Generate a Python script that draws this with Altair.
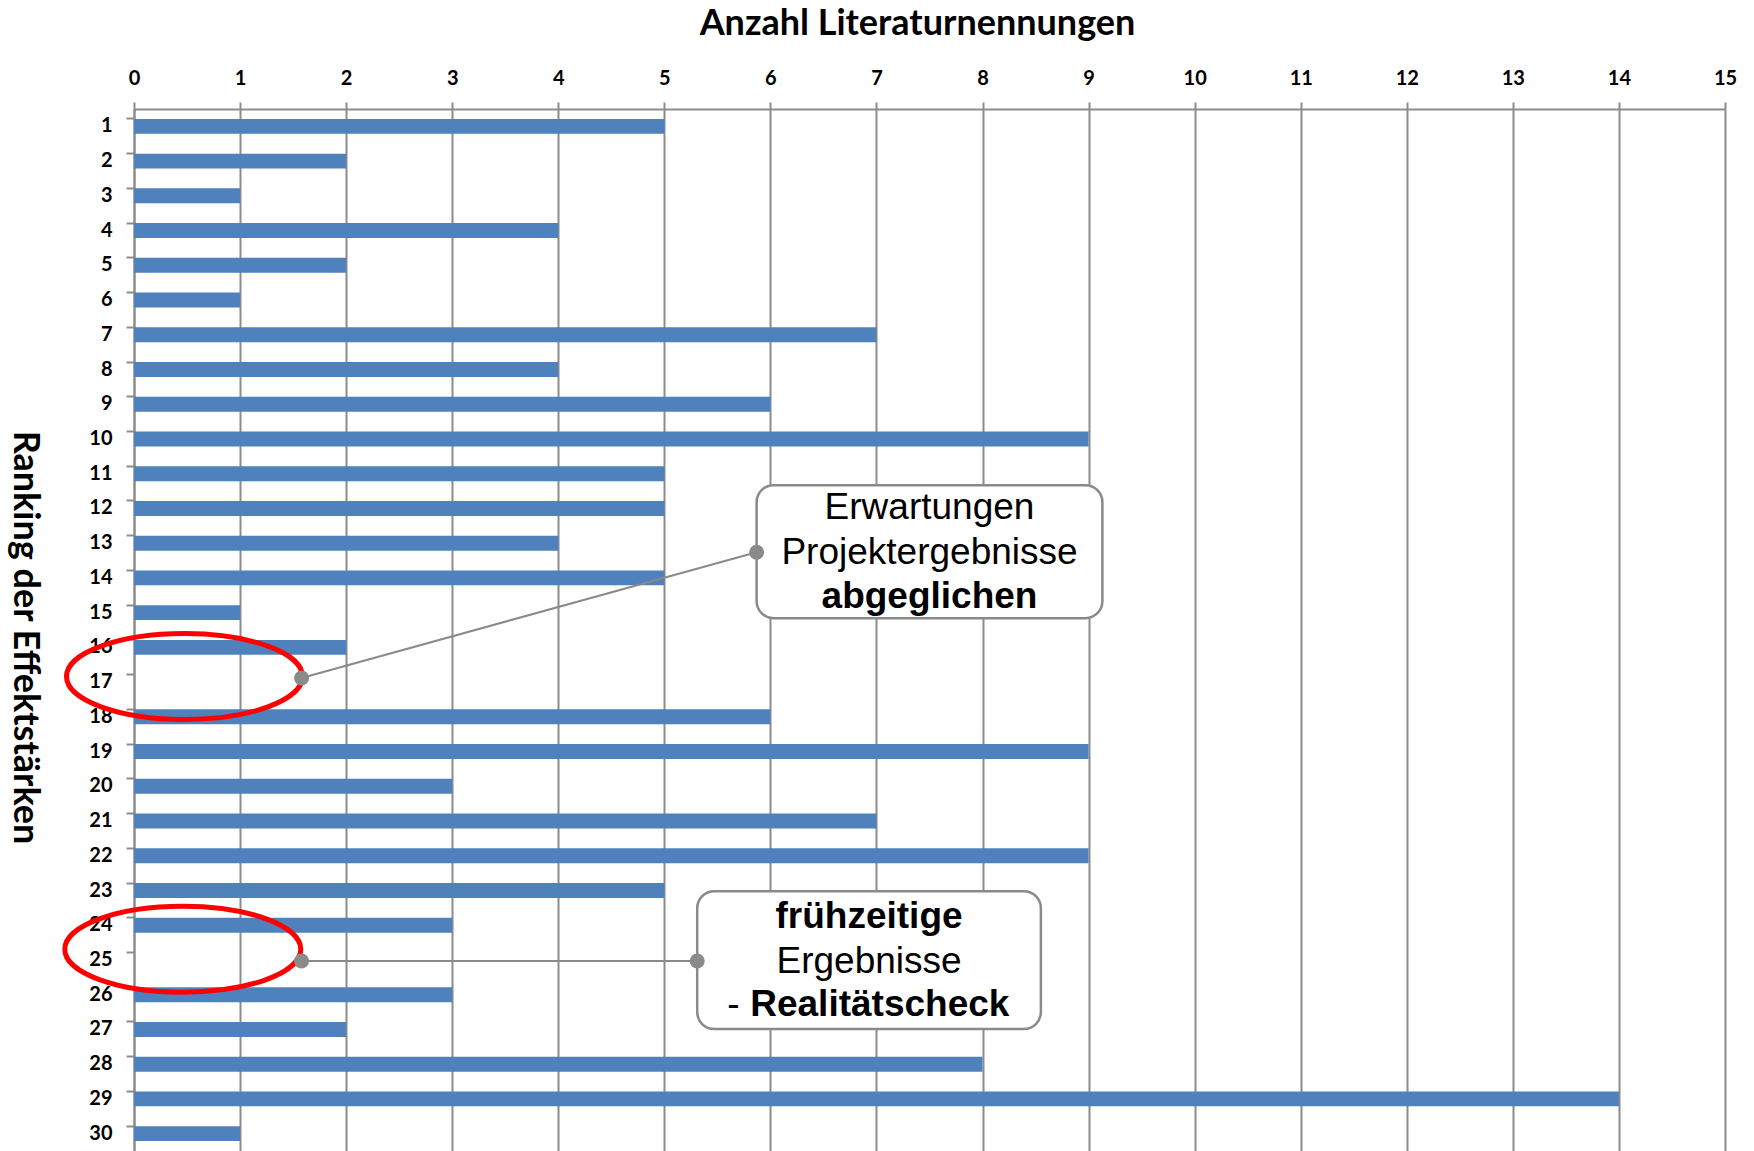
import altair as alt
import pandas as pd

# Ranking positions and number of literature mentions per rank
ranks = [1, 2, 3, 4, 5, 6, 7, 8, 9, 10, 11, 12, 13, 14, 15,
         16, 17, 18, 19, 20, 21, 22, 23, 24, 25, 26, 27, 28, 29, 30]
counts = [5, 2, 1, 4, 2, 1, 7, 4, 6, 9, 5, 5, 4, 5, 1,
          2, 0, 6, 9, 3, 7, 9, 5, 3, 0, 3, 2, 8, 14, 1]
x_ticks = [0, 1, 2, 3, 4, 5, 6, 7, 8, 9, 10, 11, 12, 13, 14, 15]

x_title = "Anzahl Literaturnennungen"
y_title = "Ranking der Effektstärken"

# Callout boxes (in data units: x = mentions, y = rank position)
box_x1 = [5.87, 5.31]
box_x2 = [9.13, 8.55]
box_y1 = [11.33, 23.02]
box_y2 = [15.16, 26.99]

# Callout text lines
text_plain = ["Erwartungen", "Projektergebnisse", "Ergebnisse"]
text_plain_x = [7.5, 7.5, 6.93]
text_plain_y = [11.99, 13.27, 25.06]
text_bold = ["abgeglichen", "frühzeitige"]
text_bold_x = [7.5, 6.93]
text_bold_y = [14.55, 23.76]
dash_text = ["-"]
dash_x = [5.71]
dash_y = [26.31]
tail_text = ["Realitätscheck"]
tail_x = [5.81]
tail_y = [26.31]

# Connector lines from the highlighted gaps to the boxes
conn_x1 = [1.58, 1.58]
conn_y1 = [16.88, 25.03]
conn_x2 = [5.87, 5.31]
conn_y2 = [13.26, 25.03]

# Highlight ellipses around the empty ranks
ell_x = [0.476, 0.46]
ell_y = [16.84, 24.69]

BLUE = "#4F81BD"
GRID = "#8C8C8C"
CALLOUT = "#8A8A8A"
RED = "#FF0000"
TICK_FONT = "Lato"
BOX_FONT = "Liberation Sans"

W, H = 1591, 1042

bars_df = pd.DataFrame({"rank": ranks, "count": counts})
boxes_df = pd.DataFrame({"x1": box_x1, "x2": box_x2, "y1": box_y1, "y2": box_y2})
plain_df = pd.DataFrame({"t": text_plain, "x": text_plain_x, "y": text_plain_y})
bold_df = pd.DataFrame({"t": text_bold, "x": text_bold_x, "y": text_bold_y})
dash_df = pd.DataFrame({"t": dash_text, "x": dash_x, "y": dash_y})
tail_df = pd.DataFrame({"t": tail_text, "x": tail_x, "y": tail_y})
conn_df = pd.DataFrame({"x1": conn_x1, "y1": conn_y1, "x2": conn_x2, "y2": conn_y2})
dots_df = pd.DataFrame({"x": conn_x1 + conn_x2, "y": conn_y1 + conn_y2})
ell_df = pd.DataFrame({"x": ell_x, "y": ell_y})

x_scale = alt.Scale(domain=[0, 15], nice=False, zero=True)
yq_scale = alt.Scale(domain=[0.5, 30.5], reverse=True, nice=False, zero=False)

x_axis = alt.Axis(
    orient="top", values=x_ticks, format="d", grid=True,
    gridColor=GRID, gridWidth=2, gridOpacity=1,
    domainColor=GRID, domainWidth=2,
    tickColor=GRID, tickWidth=2, tickSize=7,
    labelFont=TICK_FONT, labelFontWeight="bold", labelFontSize=20,
    labelColor="#000000", labelPadding=14, labelFlush=False,
    title=x_title, titleFont=TICK_FONT, titleFontWeight="bold",
    titleFontSize=36, titleColor="#000000",
    titleX=783, titleY=-75, titleAlign="center", titleBaseline="alphabetic",
)
y_axis = alt.Axis(
    orient="left", grid=False, bandPosition=0,
    domainColor=GRID, domainWidth=2,
    tickColor=GRID, tickWidth=2, tickSize=8,
    labelFont=TICK_FONT, labelFontWeight="bold", labelFontSize=20,
    labelColor="#000000", labelPadding=14, labelAngle=0,
    title=y_title, titleFont=TICK_FONT, titleFontWeight="bold",
    titleFontSize=36, titleColor="#000000",
    titleAngle=90, titleX=-110, titleY=528,
    titleAlign="center", titleBaseline="middle",
)

bars = alt.Chart(bars_df).mark_bar(color=BLUE).encode(
    x=alt.X("count:Q", scale=x_scale, axis=x_axis),
    y=alt.Y("rank:O", axis=y_axis,
            scale=alt.Scale(paddingInner=0.57, paddingOuter=0.285)),
)

ellipse_path = ("M -1 0 C -1 -0.201 -0.552 -0.364 0 -0.364 "
                "C 0.552 -0.364 1 -0.201 1 0 "
                "C 1 0.201 0.552 0.364 0 0.364 "
                "C -0.552 0.364 -1 0.201 -1 0 Z")
ellipses = alt.Chart(ell_df).mark_point(
    shape=ellipse_path, filled=False, color=RED, strokeWidth=5,
    size=55696, opacity=1,
).encode(
    x=alt.X("x:Q", scale=x_scale),
    y=alt.Y("y:Q", scale=yq_scale, axis=None),
)

connectors = alt.Chart(conn_df).mark_rule(color=CALLOUT, strokeWidth=2).encode(
    x=alt.X("x1:Q", scale=x_scale),
    x2="x2:Q",
    y=alt.Y("y1:Q", scale=yq_scale, axis=None),
    y2="y2:Q",
)

boxes = alt.Chart(boxes_df).mark_rect(
    fill="#FFFFFF", stroke=CALLOUT, strokeWidth=2.5, cornerRadius=17,
).encode(
    x=alt.X("x1:Q", scale=x_scale),
    x2="x2:Q",
    y=alt.Y("y1:Q", scale=yq_scale, axis=None),
    y2="y2:Q",
)


def text_layer(df, weight, align):
    return alt.Chart(df).mark_text(
        font=BOX_FONT, fontSize=37, fontWeight=weight, color="#000000",
        align=align, baseline="middle",
    ).encode(
        x=alt.X("x:Q", scale=x_scale),
        y=alt.Y("y:Q", scale=yq_scale, axis=None),
        text="t:N",
    )


texts_plain = text_layer(plain_df, "normal", "center")
texts_bold = text_layer(bold_df, "bold", "center")
texts_dash = text_layer(dash_df, "normal", "right")
texts_tail = text_layer(tail_df, "bold", "left")

dots = alt.Chart(dots_df).mark_circle(color=CALLOUT, size=225, opacity=1).encode(
    x=alt.X("x:Q", scale=x_scale),
    y=alt.Y("y:Q", scale=yq_scale, axis=None),
)

chart = alt.layer(
    bars, ellipses, connectors, boxes,
    texts_plain, texts_bold, texts_dash, texts_tail, dots,
).resolve_scale(y="independent").properties(
    width=W, height=H,
    autosize=alt.AutoSizeParams(type="none"),
    padding={"left": 134, "top": 109, "right": 29, "bottom": 0},
    background="#FFFFFF",
).configure_view(strokeWidth=0)

chart.save("out.html", embed_options={"renderer": "svg", "actions": False})
